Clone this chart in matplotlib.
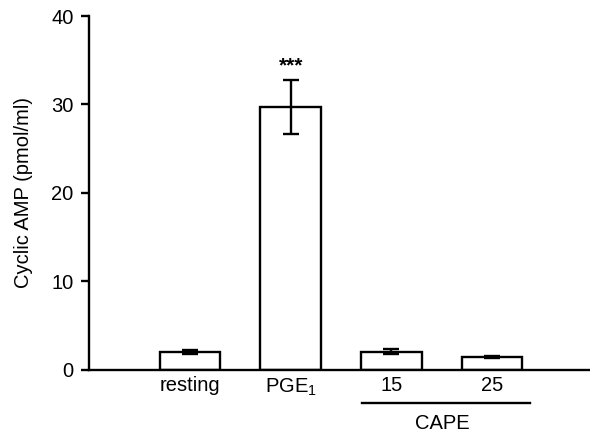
import numpy as np
import matplotlib
matplotlib.use("Agg")
import matplotlib.pyplot as plt

plt.rcParams['font.family'] = ['Liberation Sans', 'DejaVu Sans']
plt.rcParams['mathtext.fontset'] = 'custom'
plt.rcParams['mathtext.rm'] = 'Liberation Sans'
plt.rcParams['mathtext.it'] = 'Liberation Sans'

# data
labels = ['resting', 'PGE$_\\mathrm{1}$', '15', '25']
camp = [2.0, 29.7, 2.0, 1.4]
sem = [0.2, 3.1, 0.3, 0.1]
group_label = 'CAPE'

fig = plt.figure(figsize=(5.9, 4.33), dpi=100)
ax = fig.add_axes([89 / 590, 63.5 / 433, 1 - 89 / 590, (369.5 - 16) / 433])

x = np.arange(1, len(camp) + 1)
ax.bar(x, camp, width=0.6, color='white', edgecolor='black', linewidth=1.7, zorder=2)
ax.errorbar(x, camp, yerr=sem, fmt='none', ecolor='black', elinewidth=1.7,
            capsize=6, capthick=1.7, zorder=3)

ax.text(x[1], 34.3, '***', ha='center', va='center',
        fontsize=15, fontweight='bold')

ax.set_xlim(0, 4.97)
ax.set_ylim(0, 40)
ax.set_yticks([0, 10, 20, 30, 40])
ax.set_xticks(x)
ax.set_xticklabels(labels)
ax.tick_params(axis='x', length=0, pad=5, labelsize=14.5)
ax.tick_params(axis='y', length=6, width=1.7, direction='out', labelsize=14.5, pad=5)
ax.set_ylabel('Cyclic AMP (pmol/ml)', fontsize=14.5, labelpad=13)

for s in ['top', 'right']:
    ax.spines[s].set_visible(False)
for s in ['left', 'bottom']:
    ax.spines[s].set_linewidth(1.7)

# CAPE group line
ax.plot([2.71, 4.375], [-3.76, -3.76], color='black', linewidth=1.7, clip_on=False)
ax.text((x[2] + x[3]) / 2, -5.0, group_label, ha='center', va='top', fontsize=14.5)

fig.savefig('out.png', dpi=100)
